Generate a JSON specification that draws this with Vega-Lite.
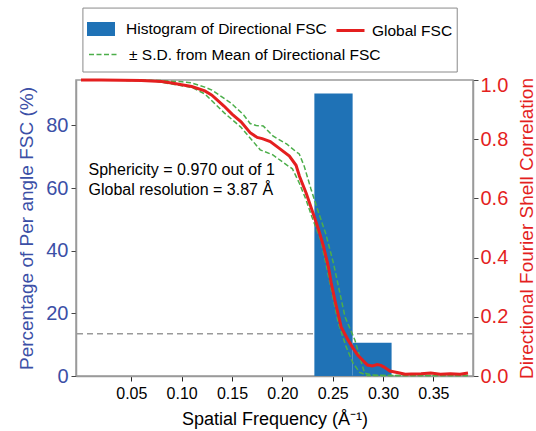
{
  "$schema": "https://vega.github.io/schema/vega-lite/v6.json",
  "width": 397,
  "height": 296,
  "autosize": {"type": "none"},
  "padding": {"left": 76, "top": 80, "right": 63, "bottom": 55},
  "background": "white",
  "config": {
    "font": "Liberation Sans",
    "view": {"stroke": "#9a9a9a", "strokeWidth": 1.5},
    "axis": {"grid": false, "labelFont": "Liberation Sans", "titleFont": "Liberation Sans", "titleFontWeight": "normal", "domainColor": "#9a9a9a", "domainWidth": 1.5, "tickColor": "#444", "tickSize": 5, "tickWidth": 1},
    "legend": {"labelFont": "Liberation Sans", "labelFontSize": 15.5, "labelColor": "black", "labelLimit": 0, "padding": 0, "title": null, "orient": "none"}
  },
  "datasets": {
    "hist": [
      {"start": 0.2318, "end": 0.2698, "pct": 90.2},
      {"start": 0.2698, "end": 0.3085, "pct": 10.6}
    ],
    "global": [
      {"freq": 0.0, "value": 1.0}, {"freq": 0.02, "value": 1.0}, {"freq": 0.04, "value": 0.999},
      {"freq": 0.06, "value": 0.998}, {"freq": 0.08, "value": 0.995}, {"freq": 0.09, "value": 0.99},
      {"freq": 0.1, "value": 0.984}, {"freq": 0.11, "value": 0.978}, {"freq": 0.123, "value": 0.963},
      {"freq": 0.13, "value": 0.949}, {"freq": 0.142, "value": 0.912}, {"freq": 0.15, "value": 0.885},
      {"freq": 0.159, "value": 0.859}, {"freq": 0.168, "value": 0.822}, {"freq": 0.175, "value": 0.806},
      {"freq": 0.18, "value": 0.802}, {"freq": 0.188, "value": 0.792}, {"freq": 0.197, "value": 0.769},
      {"freq": 0.207, "value": 0.743}, {"freq": 0.2136, "value": 0.712}, {"freq": 0.217, "value": 0.675},
      {"freq": 0.2236, "value": 0.618}, {"freq": 0.2294, "value": 0.561}, {"freq": 0.2361, "value": 0.493},
      {"freq": 0.241, "value": 0.436}, {"freq": 0.2458, "value": 0.368}, {"freq": 0.2485, "value": 0.315},
      {"freq": 0.2526, "value": 0.25}, {"freq": 0.2584, "value": 0.166}, {"freq": 0.2652, "value": 0.122},
      {"freq": 0.27, "value": 0.095}, {"freq": 0.2748, "value": 0.071}, {"freq": 0.2845, "value": 0.037},
      {"freq": 0.2894, "value": 0.034}, {"freq": 0.2942, "value": 0.039}, {"freq": 0.298, "value": 0.036},
      {"freq": 0.301, "value": 0.03}, {"freq": 0.3068, "value": 0.017}, {"freq": 0.3165, "value": 0.01},
      {"freq": 0.322, "value": 0.006}, {"freq": 0.328, "value": 0.007}, {"freq": 0.3378, "value": 0.008},
      {"freq": 0.3474, "value": 0.01}, {"freq": 0.357, "value": 0.006}, {"freq": 0.3668, "value": 0.008},
      {"freq": 0.3765, "value": 0.006}, {"freq": 0.3844, "value": 0.01}
    ],
    "upper": [
      {"freq": 0.0, "value": 1.0}, {"freq": 0.04, "value": 1.0}, {"freq": 0.08, "value": 0.998},
      {"freq": 0.1006, "value": 0.994}, {"freq": 0.11, "value": 0.99}, {"freq": 0.123, "value": 0.976},
      {"freq": 0.13, "value": 0.966}, {"freq": 0.149, "value": 0.922}, {"freq": 0.1616, "value": 0.882},
      {"freq": 0.168, "value": 0.853}, {"freq": 0.174, "value": 0.846}, {"freq": 0.181, "value": 0.845},
      {"freq": 0.1906, "value": 0.811}, {"freq": 0.2042, "value": 0.784}, {"freq": 0.2139, "value": 0.757},
      {"freq": 0.2168, "value": 0.75}, {"freq": 0.2217, "value": 0.709}, {"freq": 0.2284, "value": 0.632},
      {"freq": 0.2361, "value": 0.551}, {"freq": 0.2429, "value": 0.483}, {"freq": 0.2507, "value": 0.382},
      {"freq": 0.2623, "value": 0.199}, {"freq": 0.272, "value": 0.122}, {"freq": 0.2778, "value": 0.054},
      {"freq": 0.2817, "value": 0.01}, {"freq": 0.2894, "value": 0.003}, {"freq": 0.3, "value": 0.002},
      {"freq": 0.3844, "value": 0.002}
    ],
    "lower": [
      {"freq": 0.0, "value": 1.0}, {"freq": 0.07, "value": 0.998}, {"freq": 0.11, "value": 0.975},
      {"freq": 0.123, "value": 0.953}, {"freq": 0.1423, "value": 0.889}, {"freq": 0.1587, "value": 0.841},
      {"freq": 0.1713, "value": 0.791}, {"freq": 0.178, "value": 0.764}, {"freq": 0.1906, "value": 0.747},
      {"freq": 0.2042, "value": 0.713}, {"freq": 0.21, "value": 0.7}, {"freq": 0.2168, "value": 0.652},
      {"freq": 0.2236, "value": 0.595}, {"freq": 0.2294, "value": 0.537}, {"freq": 0.2381, "value": 0.459},
      {"freq": 0.2429, "value": 0.385}, {"freq": 0.2487, "value": 0.29}, {"freq": 0.2555, "value": 0.18},
      {"freq": 0.2632, "value": 0.1}, {"freq": 0.27, "value": 0.045}, {"freq": 0.2768, "value": 0.012},
      {"freq": 0.2845, "value": 0.002}, {"freq": 0.3844, "value": 0.002}
    ]
  },
  "layer": [
    {
      "layer": [
        {
          "data": {"values": [{}]},
          "mark": {"type": "rule", "color": "#9a9a9a", "strokeWidth": 1.5, "strokeDash": [6, 4]},
          "encoding": {"y": {"datum": 13.51, "type": "quantitative"}}
        },
        {
          "data": {"name": "hist"},
          "mark": {"type": "bar", "orient": "vertical"},
          "encoding": {
            "x": {"field": "start", "type": "quantitative", "scale": {"domain": [0, 0.3844], "nice": false, "zero": false},
              "axis": {"title": "Spatial Frequency (Å⁻¹)", "values": [0.05, 0.1, 0.15, 0.2, 0.25, 0.3, 0.35], "format": ".2f",
                "labelFontSize": 16, "labelColor": "black", "titleFontSize": 18, "titleColor": "black", "labelPadding": 4, "titlePadding": 9, "tickColor": "#222"}},
            "x2": {"field": "end"},
            "y": {"field": "pct", "type": "quantitative", "scale": {"domain": [0, 94.5], "nice": false},
              "axis": {"orient": "left", "title": "Percentage of Per angle FSC (%)", "values": [0, 20, 40, 60, 80],
                "labelFontSize": 20, "labelColor": "#3b4fa6", "titleFontSize": 19, "titleColor": "#3b4fa6", "labelPadding": 3, "titlePadding": 9}},
            "y2": {"datum": 0},
            "fill": {"datum": "Histogram of Directional FSC", "type": "nominal",
              "scale": {"domain": ["Histogram of Directional FSC"], "range": ["#1f72b6"]},
              "legend": {"legendX": 11, "legendY": -65, "symbolType": "M-1,-0.5H1V0.5H-1Z", "symbolSize": 784, "symbolStrokeWidth": 0, "labelOffset": 11}
            }
          }
        }
      ]
    },
    {
      "layer": [
        {
          "data": {"values": [{}]},
          "mark": {"type": "rect", "fill": "white", "stroke": "#8a8a8a", "strokeWidth": 1},
          "encoding": {
            "x": {"datum": 0.0019, "type": "quantitative"},
            "x2": {"datum": 0.3737},
            "y": {"datum": 1.243, "type": "quantitative"},
            "y2": {"datum": 1.027}
          }
        },
        {
          "data": {"name": "upper"},
          "mark": {"type": "line", "strokeWidth": 1.5, "color": "#4cae4a"},
          "encoding": {
            "x": {"field": "freq", "type": "quantitative"},
            "y": {"field": "value", "type": "quantitative", "scale": {"domain": [0, 1], "nice": false},
              "axis": {"orient": "right", "title": "Directional Fourier Shell Correlation", "values": [0, 0.2, 0.4, 0.6, 0.8, 1.0], "format": ".1f",
                "labelFontSize": 20, "labelColor": "#e41f1f", "titleFontSize": 19, "titleColor": "#e41f1f", "titleAngle": 270, "titleBaseline": "top", "labelPadding": 2, "titlePadding": 10,
                "labelOffset": {"condition": {"test": "datum.value >= 0.99", "value": 5}, "value": 0}}},
            "strokeDash": {"datum": "± S.D. from Mean of Directional FSC", "type": "nominal",
              "scale": {"domain": ["± S.D. from Mean of Directional FSC"], "range": [[5, 2.5]]},
              "legend": {"legendX": 12, "legendY": -41, "symbolType": "stroke", "symbolSize": 841, "symbolStrokeWidth": 1.5, "symbolStrokeColor": "#4cae4a", "symbolDash": [5, 2.5], "labelOffset": 10}
            }
          }
        },
        {
          "data": {"name": "lower"},
          "mark": {"type": "line", "strokeWidth": 1.5, "color": "#4cae4a"},
          "encoding": {
            "x": {"field": "freq", "type": "quantitative"},
            "y": {"field": "value", "type": "quantitative"},
            "strokeDash": {"datum": "± S.D. from Mean of Directional FSC", "type": "nominal"}
          }
        },
        {
          "data": {"name": "global"},
          "mark": {"type": "line", "strokeWidth": 3},
          "encoding": {
            "x": {"field": "freq", "type": "quantitative"},
            "y": {"field": "value", "type": "quantitative"},
            "stroke": {"datum": "Global FSC", "type": "nominal",
              "scale": {"domain": ["Global FSC"], "range": ["#e41f1f"]},
              "legend": {"legendX": 259, "legendY": -65, "symbolType": "stroke", "symbolSize": 784, "symbolStrokeWidth": 3, "labelOffset": 6}
            }
          }
        },
        {
          "data": {"values": [{}]},
          "mark": {"type": "text", "text": ["Sphericity = 0.970 out of 1", "Global resolution = 3.87 Å"], "align": "left", "baseline": "middle", "lineHeight": 20, "fontSize": 16, "color": "black", "font": "Liberation Sans"},
          "encoding": {
            "x": {"datum": 0.0075, "type": "quantitative"},
            "y": {"datum": 0.696, "type": "quantitative"}
          }
        }
      ]
    }
  ],
  "resolve": {"scale": {"y": "independent"}}
}
